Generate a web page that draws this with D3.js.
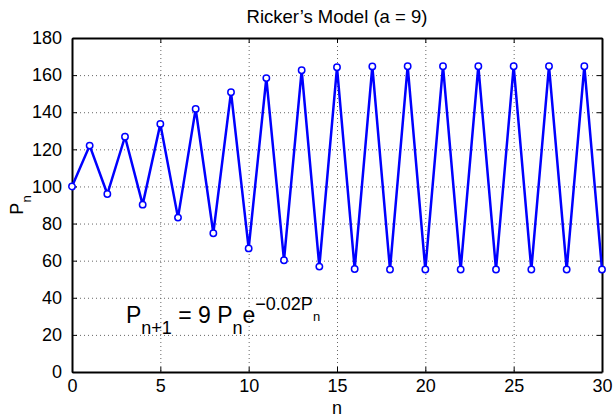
<!DOCTYPE html>
<html>
<head>
<meta charset="utf-8">
<script src="https://cdn.jsdelivr.net/npm/d3@7"></script>
<style>
body { margin: 0; background: #fff; }
text { font-family: "Liberation Sans", Arial, sans-serif; }
</style>
</head>
<body>
<div id="chart"></div>
<script>
// values
var nValues = d3.range(0, 31);
var popValues = [100, 122.0, 95.9, 126.8, 90.2, 133.7, 83.2, 141.8, 74.8, 150.8,
                 66.6, 158.4, 60.2, 162.6, 56.8, 164.2, 55.5, 164.7, 55.2, 164.8,
                 55.2, 164.8, 55.2, 164.8, 55.2, 164.8, 55.2, 164.8, 55.2, 164.8, 55.2];
var xTicks = [0, 5, 10, 15, 20, 25, 30];
var yTicks = [0, 20, 40, 60, 80, 100, 120, 140, 160, 180];

var data = nValues.map(function(n, i) { return {n: n, p: popValues[i]}; });

var W = 613, H = 418;
var margin = {top: 38, right: 11, bottom: 46, left: 72};
var width = W - margin.left - margin.right,
    height = H - margin.top - margin.bottom;

var svg = d3.select("#chart").append("svg")
    .attr("width", W).attr("height", H);

var g = svg.append("g")
    .attr("transform", "translate(" + margin.left + "," + margin.top + ")");

var x = d3.scaleLinear().domain([0, 30]).range([0, width]);
var y = d3.scaleLinear().domain([0, 180]).range([height, 0]);

// grid
g.selectAll(".vgrid").data(xTicks.slice(1, -1)).enter().append("line")
    .attr("x1", d => x(d) + 0.5).attr("x2", d => x(d) + 0.5)
    .attr("y1", 0).attr("y2", height)
    .attr("stroke", "#666").attr("stroke-width", 1)
    .attr("stroke-dasharray", "1,3");
g.selectAll(".hgrid").data(yTicks.slice(1, -1)).enter().append("line")
    .attr("x1", 0).attr("x2", width)
    .attr("y1", d => y(d) + 0.5).attr("y2", d => y(d) + 0.5)
    .attr("stroke", "#666").attr("stroke-width", 1)
    .attr("stroke-dasharray", "1,3");

// axes, ticks inward
var xAxis = d3.axisBottom(x).tickValues(xTicks).tickSizeInner(-5).tickSizeOuter(0).tickPadding(7);
var yAxis = d3.axisLeft(y).tickValues(yTicks).tickSizeInner(-5).tickSizeOuter(0).tickPadding(10);
var xTop = d3.axisTop(x).tickValues(xTicks).tickSizeInner(-5).tickSizeOuter(0).tickFormat("");
var yRight = d3.axisRight(y).tickValues(yTicks).tickSizeInner(-5).tickSizeOuter(0).tickFormat("");

function styleAxis(sel) {
    sel.selectAll("path").attr("stroke", "#000").attr("stroke-width", 2);
    sel.selectAll("line").attr("stroke", "#000").attr("stroke-width", 1);
    sel.selectAll("text").attr("fill", "#000").style("font-size", "18px");
}

g.append("g").attr("transform", "translate(0," + height + ")").call(xAxis).call(styleAxis);
g.append("g").call(yAxis).call(styleAxis);
g.append("g").call(xTop).call(styleAxis);
g.append("g").attr("transform", "translate(" + width + ",0)").call(yRight).call(styleAxis);

// line
var line = d3.line().x(d => x(d.n)).y(d => y(d.p));
g.append("path").datum(data)
    .attr("d", line)
    .attr("fill", "none")
    .attr("stroke", "#0000ff")
    .attr("stroke-width", 2.5)
    .attr("stroke-linejoin", "miter");

g.selectAll(".pt").data(data).enter().append("circle")
    .attr("cx", d => x(d.n)).attr("cy", d => y(d.p))
    .attr("r", 3.2)
    .attr("fill", "#fff")
    .attr("stroke", "#0000ff")
    .attr("stroke-width", 1.5);

// title and labels
svg.append("text")
    .attr("x", margin.left + width / 2).attr("y", 23)
    .attr("text-anchor", "middle")
    .style("font-size", "18.5px")
    .text("Ricker\u2019s Model (a = 9)");

svg.append("text")
    .attr("x", margin.left + width / 2).attr("y", 414)
    .attr("text-anchor", "middle")
    .style("font-size", "18px")
    .text("n");

var yl = svg.append("text")
    .attr("transform", "translate(23," + (margin.top + height / 2) + ") rotate(-90)")
    .attr("text-anchor", "middle")
    .style("font-size", "18px");
yl.append("tspan").text("P");
yl.append("tspan").attr("dy", 8).style("font-size", "13px").text("n");

// equation
var eq = g.append("text")
    .attr("x", x(3.05)).attr("y", y(26.4))
    .style("font-size", "23px");
eq.append("tspan").text("P");
eq.append("tspan").attr("dy", 11).style("font-size", "18px").text("n+1");
eq.append("tspan").attr("dy", -11).text(" = 9 P");
eq.append("tspan").attr("dy", 11).style("font-size", "18px").text("n");
eq.append("tspan").attr("dy", -11).text("e");
eq.append("tspan").attr("dy", -13).style("font-size", "18px").text("\u22120.02P");
eq.append("tspan").attr("dy", 11).style("font-size", "13px").text("n");
</script>
</body>
</html>
